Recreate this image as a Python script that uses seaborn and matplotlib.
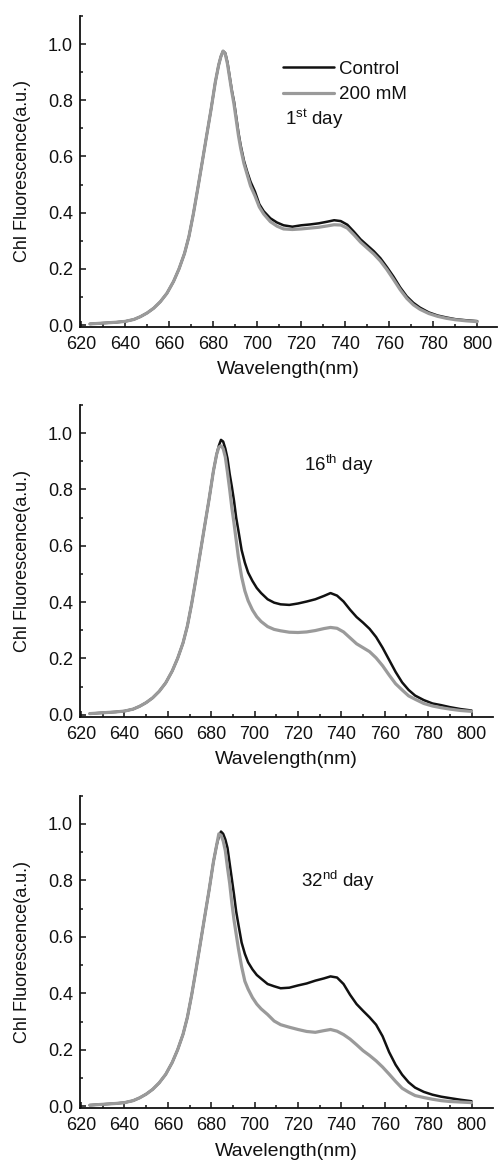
import matplotlib
matplotlib.use("Agg")
import matplotlib.pyplot as plt
import seaborn as sns
import pandas as pd
from matplotlib.ticker import MultipleLocator, FormatStrFormatter

# ---------------- data ----------------
wavelength = [624, 628, 632, 636, 640, 644, 647, 650, 653, 656, 659, 662, 664.5, 667,
              669, 671, 673, 675, 677, 679, 681, 682.5, 683.5, 684.5, 685.5, 686.5,
              687.5, 688.5, 689.5, 690.5, 691.5, 692.5, 694, 695.5, 697, 699, 701, 703,
              706, 709, 712, 716, 720, 724, 728, 732, 735, 738, 741, 744, 747, 750,
              753, 756, 759, 762, 765, 768, 771, 774, 778, 782, 786, 790, 795, 800]

rise = [0.004, 0.006, 0.008, 0.010, 0.013, 0.020, 0.030, 0.043, 0.060, 0.083, 0.113,
        0.155, 0.200, 0.255, 0.315, 0.395, 0.485, 0.578, 0.672, 0.765, 0.865, 0.925]

day1_control = rise + [0.955, 0.975, 0.968, 0.935, 0.885, 0.835, 0.795, 0.740, 0.685,
                       0.640, 0.585, 0.545, 0.510, 0.475, 0.430, 0.405, 0.380, 0.365,
                       0.355, 0.350, 0.355, 0.358, 0.362, 0.368, 0.373, 0.370, 0.357,
                       0.332, 0.305, 0.284, 0.263, 0.238, 0.206, 0.172, 0.134, 0.102,
                       0.079, 0.062, 0.045, 0.034, 0.027, 0.021, 0.017, 0.014]
day1_salt = rise + [0.955, 0.975, 0.965, 0.930, 0.880, 0.830, 0.785, 0.730, 0.675,
                    0.630, 0.575, 0.535, 0.495, 0.460, 0.420, 0.395, 0.368, 0.352,
                    0.342, 0.340, 0.342, 0.345, 0.348, 0.353, 0.357, 0.356, 0.345,
                    0.321, 0.295, 0.274, 0.253, 0.228, 0.197, 0.162, 0.126, 0.095,
                    0.072, 0.056, 0.041, 0.031, 0.024, 0.019, 0.015, 0.012]

day16_control = rise + [0.955, 0.976, 0.970, 0.945, 0.910, 0.855, 0.810, 0.760, 0.700,
                        0.655, 0.585, 0.540, 0.505, 0.475, 0.450, 0.432, 0.410, 0.398,
                        0.392, 0.390, 0.395, 0.402, 0.410, 0.422, 0.432, 0.423, 0.402,
                        0.373, 0.347, 0.327, 0.305, 0.276, 0.238, 0.195, 0.152, 0.115,
                        0.088, 0.068, 0.052, 0.040, 0.034, 0.027, 0.020, 0.015]
day16_salt = rise + [0.950, 0.955, 0.945, 0.915, 0.860, 0.800, 0.735, 0.680, 0.620,
                     0.560, 0.490, 0.440, 0.405, 0.372, 0.348, 0.331, 0.313, 0.303,
                     0.298, 0.293, 0.292, 0.294, 0.299, 0.306, 0.310, 0.307, 0.294,
                     0.273, 0.252, 0.238, 0.224, 0.202, 0.174, 0.141, 0.110, 0.088,
                     0.067, 0.055, 0.040, 0.031, 0.025, 0.020, 0.015, 0.012]

day32_control = rise + [0.955, 0.973, 0.965, 0.945, 0.915, 0.860, 0.805, 0.750, 0.690,
                        0.645, 0.580, 0.540, 0.510, 0.485, 0.465, 0.452, 0.433, 0.425,
                        0.418, 0.420, 0.428, 0.435, 0.445, 0.453, 0.460, 0.456, 0.433,
                        0.395, 0.362, 0.338, 0.315, 0.289, 0.248, 0.192, 0.147, 0.112,
                        0.085, 0.066, 0.051, 0.041, 0.034, 0.029, 0.023, 0.018]
day32_salt = rise + [0.965, 0.960, 0.940, 0.905, 0.845, 0.790, 0.720, 0.660, 0.610,
                     0.560, 0.495, 0.443, 0.415, 0.385, 0.362, 0.345, 0.325, 0.302,
                     0.289, 0.280, 0.272, 0.265, 0.262, 0.268, 0.272, 0.266, 0.254,
                     0.238, 0.218, 0.197, 0.180, 0.161, 0.139, 0.114, 0.088, 0.064,
                     0.050, 0.038, 0.031, 0.025, 0.020, 0.017, 0.015, 0.013]

series_names = ["Control", "200 mM"]
day_labels = [r"1$^{\mathrm{st}}$ day", r"16$^{\mathrm{th}}$ day", r"32$^{\mathrm{nd}}$ day"]
panels = [(day1_control, day1_salt), (day16_control, day16_salt), (day32_control, day32_salt)]

x_ticks = [620, 640, 660, 680, 700, 720, 740, 760, 780, 800]
y_ticks = [0.0, 0.2, 0.4, 0.6, 0.8, 1.0]

# ---------------- style ----------------
sns.set_style("ticks")
plt.rcParams["font.family"] = ["Liberation Sans", "DejaVu Sans"]
plt.rcParams["mathtext.fontset"] = "custom"
plt.rcParams["mathtext.rm"] = "Liberation Sans"
plt.rcParams["mathtext.it"] = "Liberation Sans:italic"
plt.rcParams["mathtext.bf"] = "Liberation Sans:bold"

colors = {"Control": "#111111", "200 mM": "#9a9a9a"}
widths = {"Control": 1.8, "200 mM": 2.3}

fig = plt.figure(figsize=(4.98, 11.65), dpi=100)

axes_rects = [
    [80 / 498, 0.7193, 417 / 498, 0.2670],
    [80 / 498, 0.3848, 413 / 498, 0.2676],
    [80 / 498, 0.0487, 413 / 498, 0.2683],
]
xlims = [(619.5, 809.0), (619.5, 809.9), (619.5, 809.9)]
text_pos = [(712.8, 0.732), (722.7, 0.887), (721.4, 0.797)]

for i, ((ctrl, salt), rect) in enumerate(zip(panels, axes_rects)):
    ax = fig.add_axes(rect)
    df = pd.DataFrame({
        "Wavelength": wavelength * 2,
        "Fluorescence": ctrl + salt,
        "Treatment": [series_names[0]] * len(wavelength) + [series_names[1]] * len(wavelength),
    })
    for name in series_names:
        sub = df[df["Treatment"] == name]
        sns.lineplot(data=sub, x="Wavelength", y="Fluorescence", ax=ax,
                     color=colors[name], lw=widths[name], label=name if i == 0 else None,
                     legend=False, sort=False)

    ax.set_xlim(*xlims[i])
    ax.set_ylim(-0.007, 1.10)
    ax.set_xticks(x_ticks)
    ax.set_yticks(y_ticks)
    ax.xaxis.set_minor_locator(MultipleLocator(10))
    ax.yaxis.set_minor_locator(MultipleLocator(0.1))
    ax.yaxis.set_major_formatter(FormatStrFormatter("%.1f"))
    ax.tick_params(which="both", direction="in", width=1.1, color="#111111",
                   labelsize=13, labelcolor="#111111")
    ax.tick_params(which="major", length=4.5)
    ax.tick_params(which="minor", length=2.5)
    ax.tick_params(axis="x", which="major", pad=6.5)
    ax.tick_params(axis="y", which="major", pad=5)
    for side in ["top", "right"]:
        ax.spines[side].set_visible(False)
    for side in ["left", "bottom"]:
        ax.spines[side].set_linewidth(1.3)
        ax.spines[side].set_color("#111111")
    ax.set_xlabel("Wavelength(nm)", fontsize=14, color="#111111", labelpad=6)
    ax.set_ylabel("Chl Fluorescence(a.u.)", fontsize=13, color="#111111", labelpad=12)

    ax.text(text_pos[i][0], text_pos[i][1], day_labels[i], fontsize=13.5,
            color="#111111", ha="left", va="center")

    if i == 0:
        leg = ax.legend(loc="upper left", bbox_to_anchor=(0.487, 0.857), frameon=False,
                        fontsize=13.5, handlelength=2.7, handletextpad=0.3,
                        labelspacing=0.45, borderpad=0, borderaxespad=0)
        for t in leg.get_texts():
            t.set_color("#111111")

fig.savefig("out.png", dpi=100)
